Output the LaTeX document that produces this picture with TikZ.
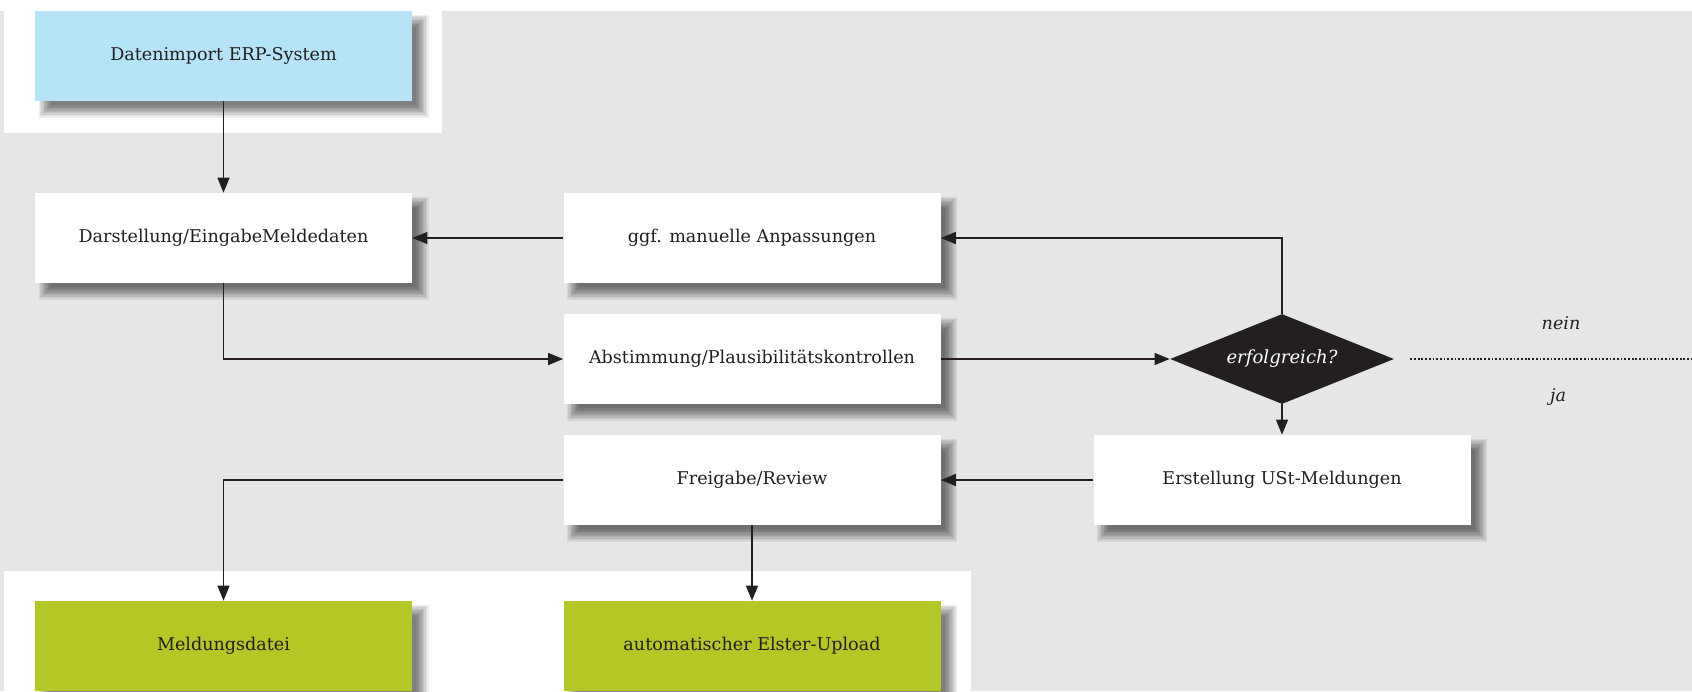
\documentclass[tikz,border=0pt]{standalone}
\usepackage{fontspec}
\setmainfont{DejaVu Serif}
\definecolor{bggray}{HTML}{E5E6E8}
\definecolor{importblue}{HTML}{B5E4F8}
\definecolor{outgreen}{HTML}{B5C724}
\definecolor{inkblack}{HTML}{231F20}
\usetikzlibrary{positioning,arrows.meta,shapes.geometric}
\pgfdeclarelayer{panels}
\pgfdeclarelayer{shade}
\pgfsetlayers{panels,shade,main}
\tikzset{
  box/.style  = {rectangle, fill = white, text = inkblack,
                 minimum width = 7.54cm, minimum height = 1.8cm,
                 inner sep = 0pt, font = \fontsize{10}{12}\selectfont},
  inbox/.style  = {box, fill = importblue},
  outbox/.style = {box, fill = outgreen},
  decide/.style = {diamond, fill = inkblack, text = white, aspect = 2.5,
                   minimum width = 4.48cm, minimum height = 1.8cm, inner sep = 0pt,
                   font = \fontsize{10.3}{12}\selectfont\itshape},
  arr/.style  = {-{Triangle[length=0.3cm,width=0.24cm]}, line width=0.7pt, draw=inkblack},
  dotline/.style = {draw=inkblack, line width=1pt, dash pattern=on 1pt off 1.1pt},
  lab/.style  = {text = inkblack, font = \fontsize{10}{12}\selectfont\itshape}
}
% soft shadow behind a box
\newcommand\boxshadow[1]{%
  \begin{pgfonlayer}{shade}
    \foreach \k in {0,...,9} {
      \pgfmathsetmacro\lo{0.2-(-0.12+0.027*\k)}
      \pgfmathsetmacro\hi{0.2+(-0.12+0.027*\k)}
      \fill[black, opacity=0.065]
        ([xshift=\lo cm, yshift=-\hi cm]#1.south west) rectangle
        ([xshift=\hi cm, yshift=-\lo cm]#1.north east);
    }
  \end{pgfonlayer}}

\begin{document}
\begin{tikzpicture}
  \useasboundingbox (0,0) rectangle (33.84,-13.82);

  % panels
  \begin{pgfonlayer}{panels}
    \fill[bggray] (0,-0.22) rectangle (33.84,-13.82);
    \fill[white] (0.08,0) rectangle (8.84,-2.66);
    \fill[white] (0.08,-11.42) rectangle (19.42,-13.82);
  \end{pgfonlayer}

  % process
  \node[inbox]  (imp)  at (4.47,-1.12)   {Datenimport ERP-System};
  \node[box]    (dar)  at (4.47,-4.76)   {Darstellung/EingabeMeldedaten};
  \node[box]    (anp)  at (15.04,-4.76)  {ggf. manuelle Anpassungen};
  \node[box]    (abs)  at (15.04,-7.18)  {Abstimmung/Plausibilitätskontrollen};
  \node[box]    (frei) at (15.04,-9.60)  {Freigabe/Review};
  \node[box]    (ust)  at (25.64,-9.60)  {Erstellung USt-Meldungen};
  \node[decide] (dia)  at (25.64,-7.18)  {erfolgreich?};
  \node[outbox] (meld) at (4.47,-12.92)  {Meldungsdatei};
  \node[outbox] (elst) at (15.04,-12.92) {automatischer Elster-Upload};

  \foreach \n in {imp,dar,anp,abs,frei,ust,meld,elst}
    \boxshadow{\n};

  % nein / ja
  \coordinate (rand) at (33.84,-7.18);
  \node[lab] (nein) at (31.22,-6.46) {nein};
  \node[lab] (ja)   at (31.16,-7.94) {ja};
  \draw[dotline] ([xshift=0.32cm]dia.east) -- (rand);

  % connectors
  \draw[arr] (imp.south) -- (dar.north);
  \draw[arr] (anp.west) -- (dar.east);
  \draw[arr] (dar.south) |- (abs.west);
  \draw[arr] (abs.east) -- (dia.west);
  \draw[arr] (dia.north) |- (anp.east);
  \draw[arr] (dia.south) -- (ust.north);
  \draw[arr] (ust.west) -- (frei.east);
  \draw[arr] (frei.west) -| (meld.north);
  \draw[arr] (frei.south) -- (elst.north);
\end{tikzpicture}
\end{document}
